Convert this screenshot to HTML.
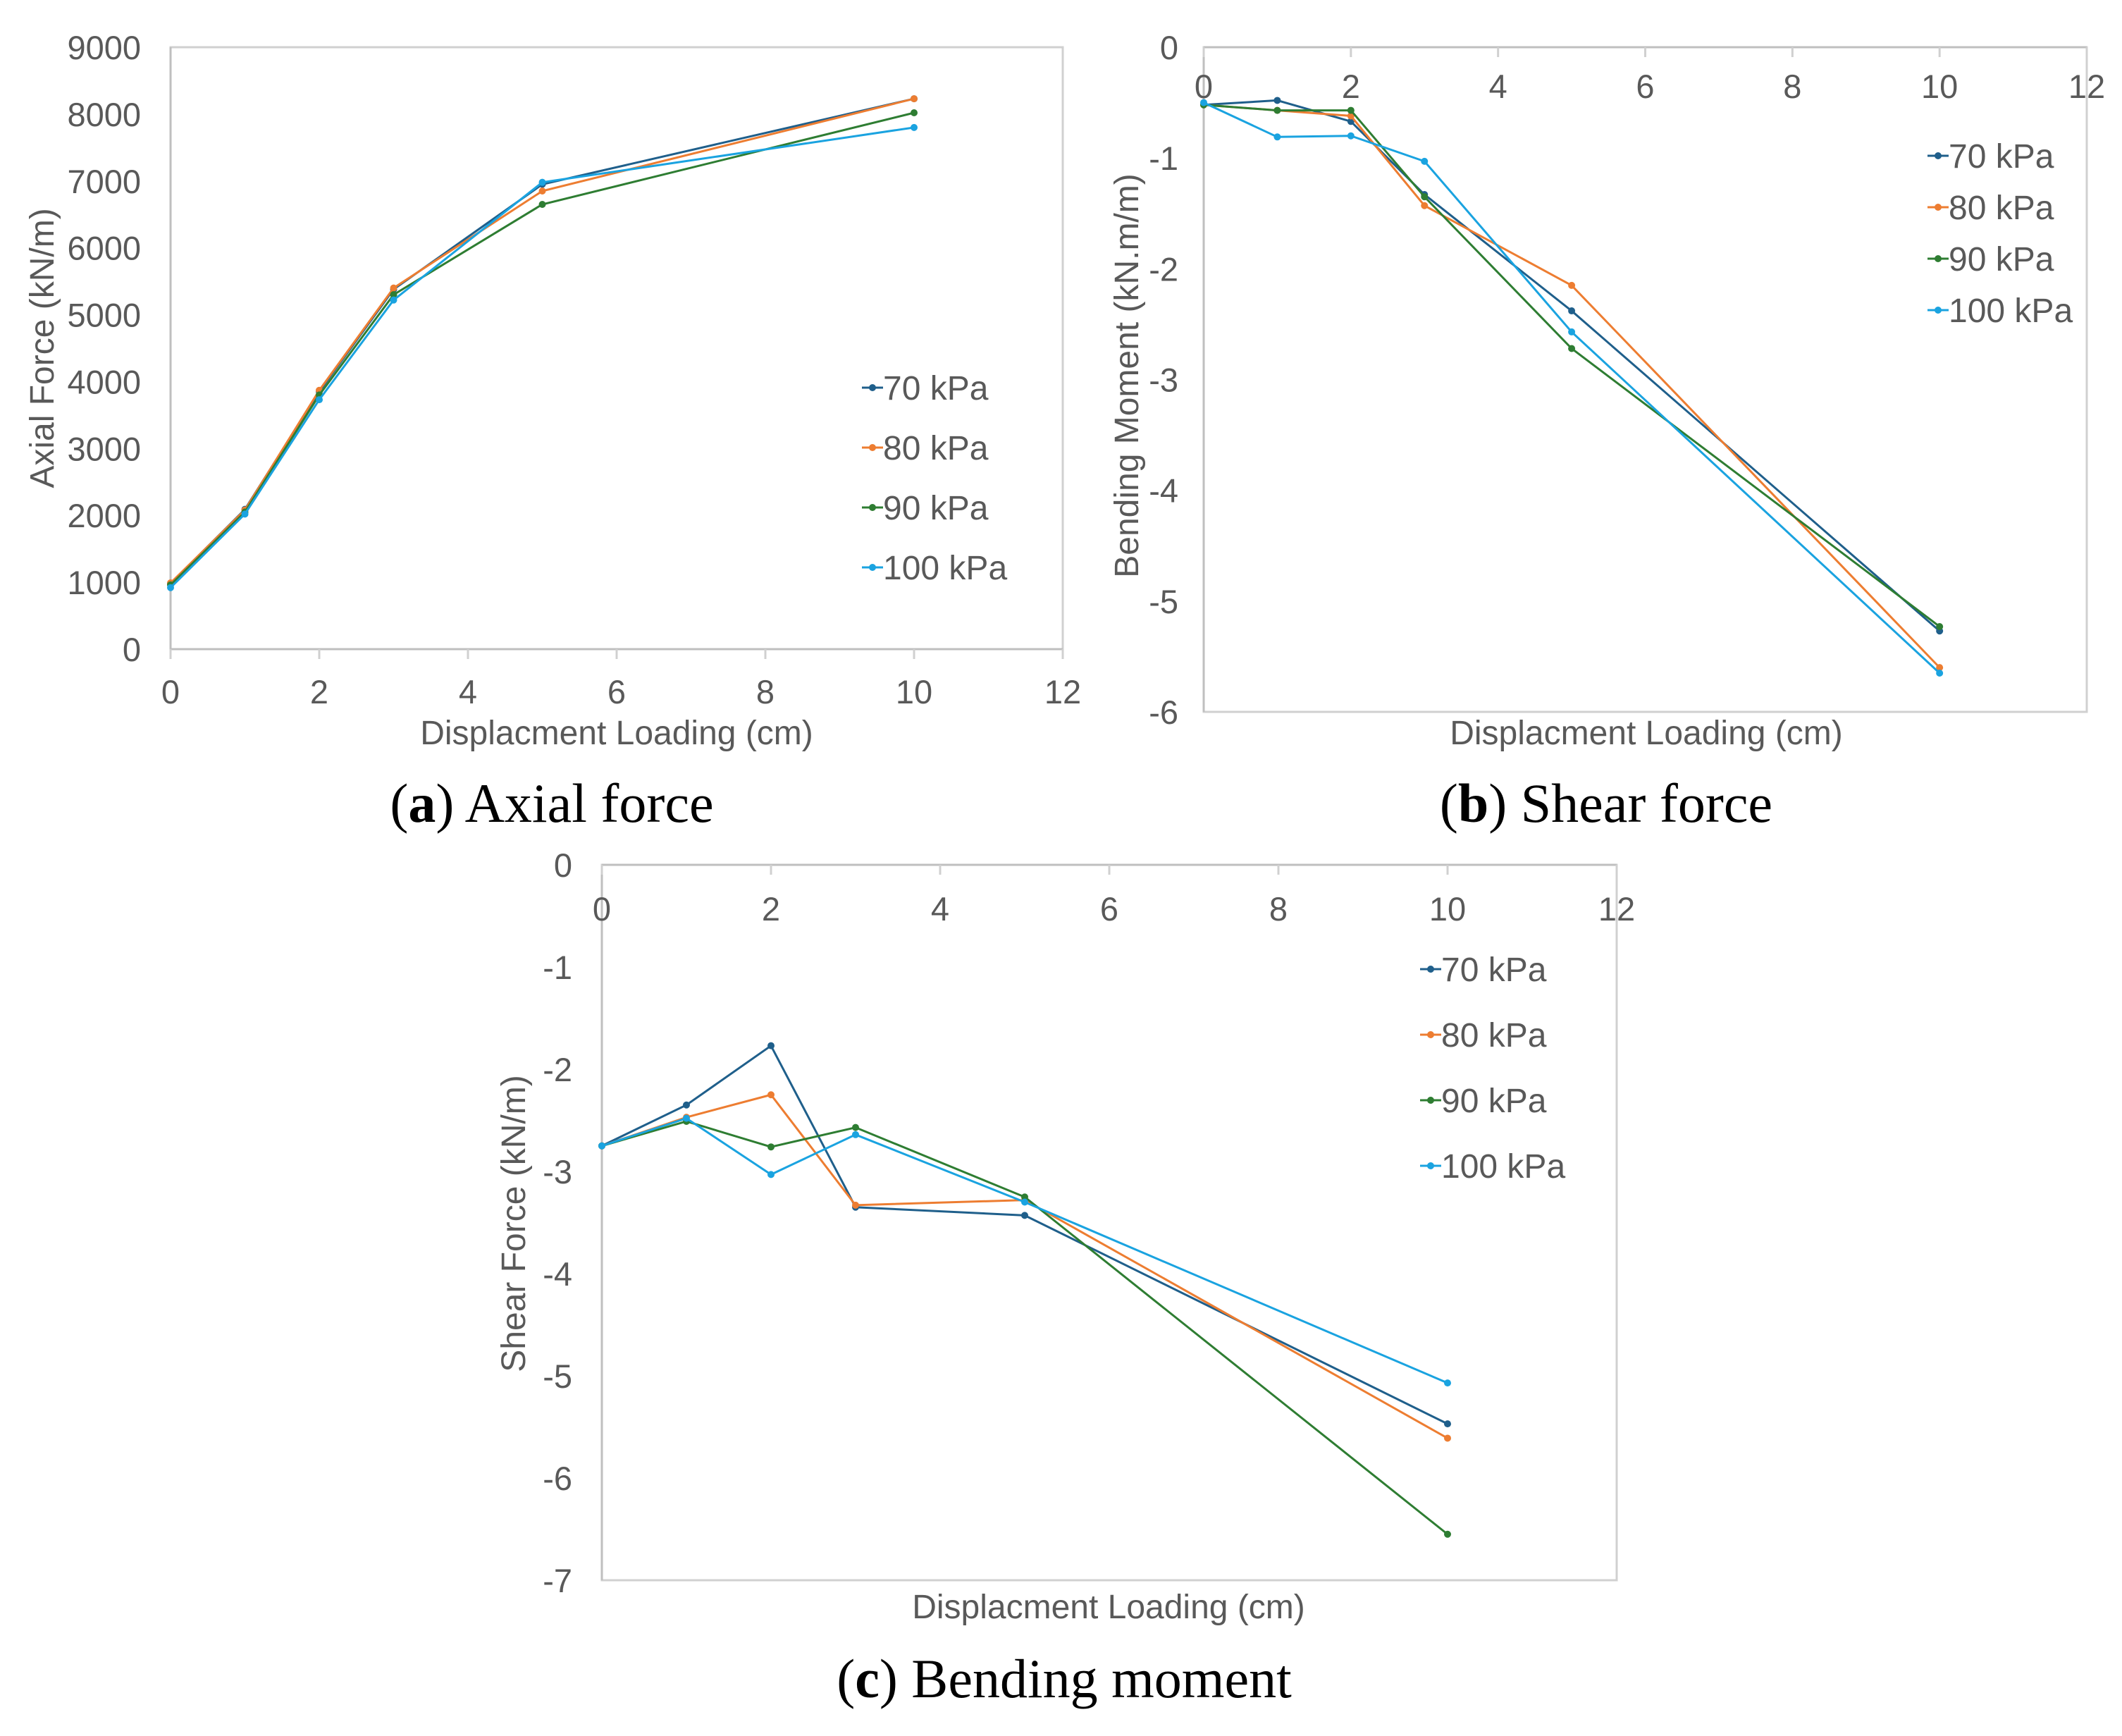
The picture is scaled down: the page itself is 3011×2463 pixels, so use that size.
<!DOCTYPE html>
<html><head><meta charset="utf-8"><style>
html,body{margin:0;padding:0;background:#fff;}
svg{display:block;}
text{font-family:"Liberation Sans",sans-serif;fill:#595959;}
.cap{font-family:"Liberation Serif",serif;fill:#000;font-size:78px;}
</style></head><body>
<svg id="s" width="3011" height="2463" viewBox="0 0 3011 2463" xmlns="http://www.w3.org/2000/svg"></svg>
<script>
const xs=[0,1,2,3,5,10];
const seriesNames=['70 kPa','80 kPa','90 kPa','100 kPa'];
const colors=['#1f5f8b','#ed7d31','#2e7d32','#1aa3e0'];
const axA70=[980,2090,3850,5380,6950,8230];
const axA80=[990,2080,3870,5400,6850,8230];
const axA90=[960,2050,3800,5300,6650,8020];
const axA100=[920,2020,3730,5220,6980,7800];
const bm70=[-0.52,-0.48,-0.67,-1.33,-2.38,-5.27];
const bm80=[-0.52,-0.57,-0.62,-1.43,-2.15,-5.60];
const bm90=[-0.52,-0.57,-0.57,-1.35,-2.72,-5.23];
const bm100=[-0.50,-0.81,-0.80,-1.03,-2.57,-5.65];
const sf70=[-2.75,-2.35,-1.77,-3.35,-3.43,-5.47];
const sf80=[-2.75,-2.47,-2.25,-3.33,-3.28,-5.61];
const sf90=[-2.75,-2.51,-2.76,-2.57,-3.25,-6.55];
const sf100=[-2.75,-2.48,-3.03,-2.64,-3.30,-5.07];
const xTicks=[0,2,4,6,8,10,12];
const yTicksA=[0,1000,2000,3000,4000,5000,6000,7000,8000,9000];
const yTicksB=[0,-1,-2,-3,-4,-5,-6];
const yTicksC=[0,-1,-2,-3,-4,-5,-6,-7];

const svg=document.getElementById('s');
const NS='http://www.w3.org/2000/svg';
function mk(tag,attrs,parent,txt){const e=document.createElementNS(NS,tag);for(const k in attrs)e.setAttribute(k,attrs[k]);if(txt!==undefined)e.textContent=txt;parent.appendChild(e);return e;}

function chart(cfg){
  const g=mk('g',{},svg);
  
  
  const X=v=>cfg.x0+v/12*(cfg.x1-cfg.x0);
  const Y=v=>cfg.yTop+(cfg.ymax-v)/(cfg.ymax-cfg.ymin)*(cfg.yBot-cfg.yTop);
  const fr=mk('rect',{x:cfg.x0,y:cfg.yTop,width:cfg.x1-cfg.x0,height:cfg.yBot-cfg.yTop,fill:'none',stroke:'#d0d0d0','stroke-width':3},g);
  
  
  const ya=Y(Math.min(Math.max(0,cfg.ymin),cfg.ymax));
  const xl=mk('line',{x1:cfg.x0,x2:cfg.x1,y1:ya,y2:ya,stroke:'#bfbfbf','stroke-width':3},g);
  
  
  const yl=mk('line',{x1:cfg.x0,x2:cfg.x0,y1:cfg.yTop,y2:cfg.yBot,stroke:'#bfbfbf','stroke-width':3},g);
  
  
  xTicks.forEach(t=>{
    const tk=mk('line',{x1:X(t),x2:X(t),y1:ya,y2:ya+14,stroke:'#d0d0d0','stroke-width':3},g);
    
    
    const tl=mk('text',{x:X(t),y:cfg.xLabelY,'font-size':47,'text-anchor':'middle'},g,String(t));
    
    
  });
  cfg.yTicks.forEach(t=>{
    const tl=mk('text',{x:cfg.yLabelX,y:Y(t)+17,'font-size':47,'text-anchor':'end'},g,String(t));
    
    
  });
  cfg.series.forEach((arr,i)=>{
    const pts=arr.map((v,j)=>X(xs[j])+','+Y(v)).join(' ');
    const pl=mk('polyline',{points:pts,fill:'none',stroke:colors[i],'stroke-width':3},g);
    
    
    arr.forEach((v,j)=>{
      const c=mk('circle',{cx:X(xs[j]),cy:Y(v),r:5,fill:colors[i]},g);
      
      
    });
    const ly=cfg.legY+i*cfg.legDy;
    const lg=mk('g',{},g);
    
    
    mk('line',{x1:cfg.legX,x2:cfg.legX+30,y1:ly,y2:ly,stroke:colors[i],'stroke-width':3},lg);
    mk('circle',{cx:cfg.legX+15,cy:ly,r:5,fill:colors[i]},lg);
    mk('text',{x:cfg.legX+30,y:ly+17,'font-size':48},lg,seriesNames[i]);
  });
  const yt=mk('text',{x:cfg.yTitleX,y:cfg.yTitleY,'font-size':48,'text-anchor':'middle',transform:`rotate(-90 ${cfg.yTitleX} ${cfg.yTitleY})`},g,cfg.yTitle);
  
  
  const xt=mk('text',{x:cfg.xTitleX,y:cfg.xTitleY,'font-size':48,'text-anchor':'middle'},g,'Displacment Loading  (cm)');
  
  
  const cp=mk('text',{x:cfg.capX,y:cfg.capY,'text-anchor':'middle',class:'cap'},g);
  
  
  mk('tspan',{},cp,'(');
  mk('tspan',{'font-weight':'bold'},cp,cfg.capL);
  mk('tspan',{},cp,') '+cfg.capT);
}
chart({name:'chart-axial-force',x0:242,x1:1508,yTop:67,yBot:921,ymin:0,ymax:9000,yTicks:yTicksA,
  xLabelY:998,yLabelX:200,series:[axA70,axA80,axA90,axA100],legX:1223,legY:550,legDy:85,
  yTitle:'Axial Force  (kN/m)',yTitleX:76,yTitleY:494,xTitleX:875,xTitleY:1056,capX:783,capY:1166,capL:'a',capT:'Axial force'});
chart({name:'chart-bending-moment-b',x0:1708,x1:2961,yTop:67,yBot:1010,ymin:-6,ymax:0,yTicks:yTicksB,
  xLabelY:139,yLabelX:1672,series:[bm70,bm80,bm90,bm100],legX:2735,legY:221,legDy:73,
  yTitle:'Bending Moment  (kN.m/m)',yTitleX:1615,yTitleY:533,xTitleX:2336,xTitleY:1056,capX:2279,capY:1166,capL:'b',capT:'Shear force'});
chart({name:'chart-shear-force-c',x0:854,x1:2294,yTop:1227,yBot:2242,ymin:-7,ymax:0,yTicks:yTicksC,
  xLabelY:1306,yLabelX:812,series:[sf70,sf80,sf90,sf100],legX:2015,legY:1375,legDy:93,
  yTitle:'Shear Force  (kN/m)',yTitleX:745,yTitleY:1736,xTitleX:1573,xTitleY:2296,capX:1510,capY:2408,capL:'c',capT:'Bending moment'});
</script>
</body></html>
